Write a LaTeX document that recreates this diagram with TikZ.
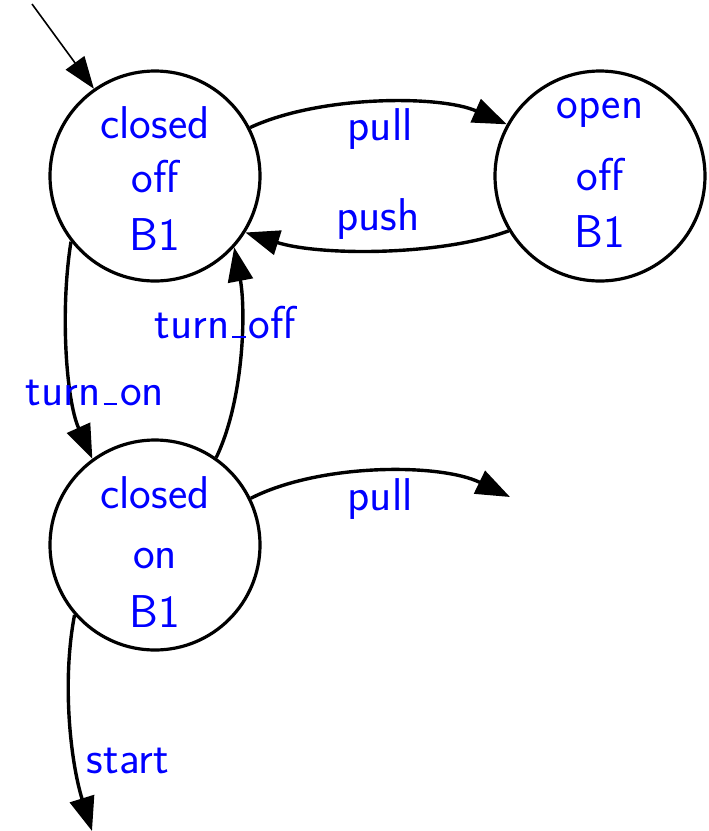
\documentclass[tikz,border=0pt]{standalone}
\usetikzlibrary{arrows.meta}
\newcommand\lowbar{\kern.06em\vbox{\hrule width.3em height 1.9pt}\kern.06em}
\begin{document}
\begin{tikzpicture}[x=1pt,y=-1pt,
  state/.style={draw=black, line width=3.2pt, circle, minimum size=210pt, inner sep=0pt},
  txt/.style={text=blue, font=\fontsize{46}{52}\selectfont\sffamily, inner sep=0pt, anchor=base},
  edge/.style={draw=black, line width=3.4pt, -{Triangle[length=34pt,width=25pt]}},
  initedge/.style={draw=black, line width=1.6pt, -{Triangle[length=32pt,width=23pt]}}]
\useasboundingbox (0,0) rectangle (709,831);
% states
\node[state] (s1) at (155,176) {};
\node[state] (s2) at (600,176) {};
\node[state] (s3) at (155,545) {};
% state texts
\node[txt] (s1a) at (155,138) {closed};
\node[txt] (s1b) at (155,192) {off};
\node[txt] (s1c) at (155,250) {B1};
\node[txt] (s2a) at (600,118) {open};
\node[txt] (s2b) at (600,190) {off};
\node[txt] (s2c) at (600,247) {B1};
\node[txt] (s3a) at (155,508) {closed};
\node[txt] (s3b) at (155,568) {on};
\node[txt] (s3c) at (155,627) {B1};
% free ends
\coordinate (init) at (32,4);
\coordinate (pullend) at (510,497);
\coordinate (startend) at (92,831);
% edges
\draw[initedge] (init) -- (s1.125);
\draw[edge] (s1.27) .. controls (320,95) and (440,95) .. (s2.151);
\draw[edge] (s2.211) .. controls (440,256) and (320,256) .. (s1.-32);
\draw[edge] (s1.-142) .. controls (60,310) and (66,400) .. (s3.126);
\draw[edge] (s3.55) .. controls (244,400) and (246,310) .. (s1.-42);
\draw[edge] (s3.26) .. controls (320,463) and (440,463) .. (pullend);
\draw[edge] (s3.-139) .. controls (62,680) and (70,760) .. (startend);
% edge labels
\node[txt] (lpull1) at (380,140) {pull};
\node[txt] (lpush) at (378,230) {push};
\node[txt] (lon) at (95,405) {turn\lowbar on};
\node[txt] (loff) at (225,338) {turn\lowbar off};
\node[txt] (lpull2) at (380,510) {pull};
\node[txt] (lstart) at (128,773) {start};
\end{tikzpicture}
\end{document}
